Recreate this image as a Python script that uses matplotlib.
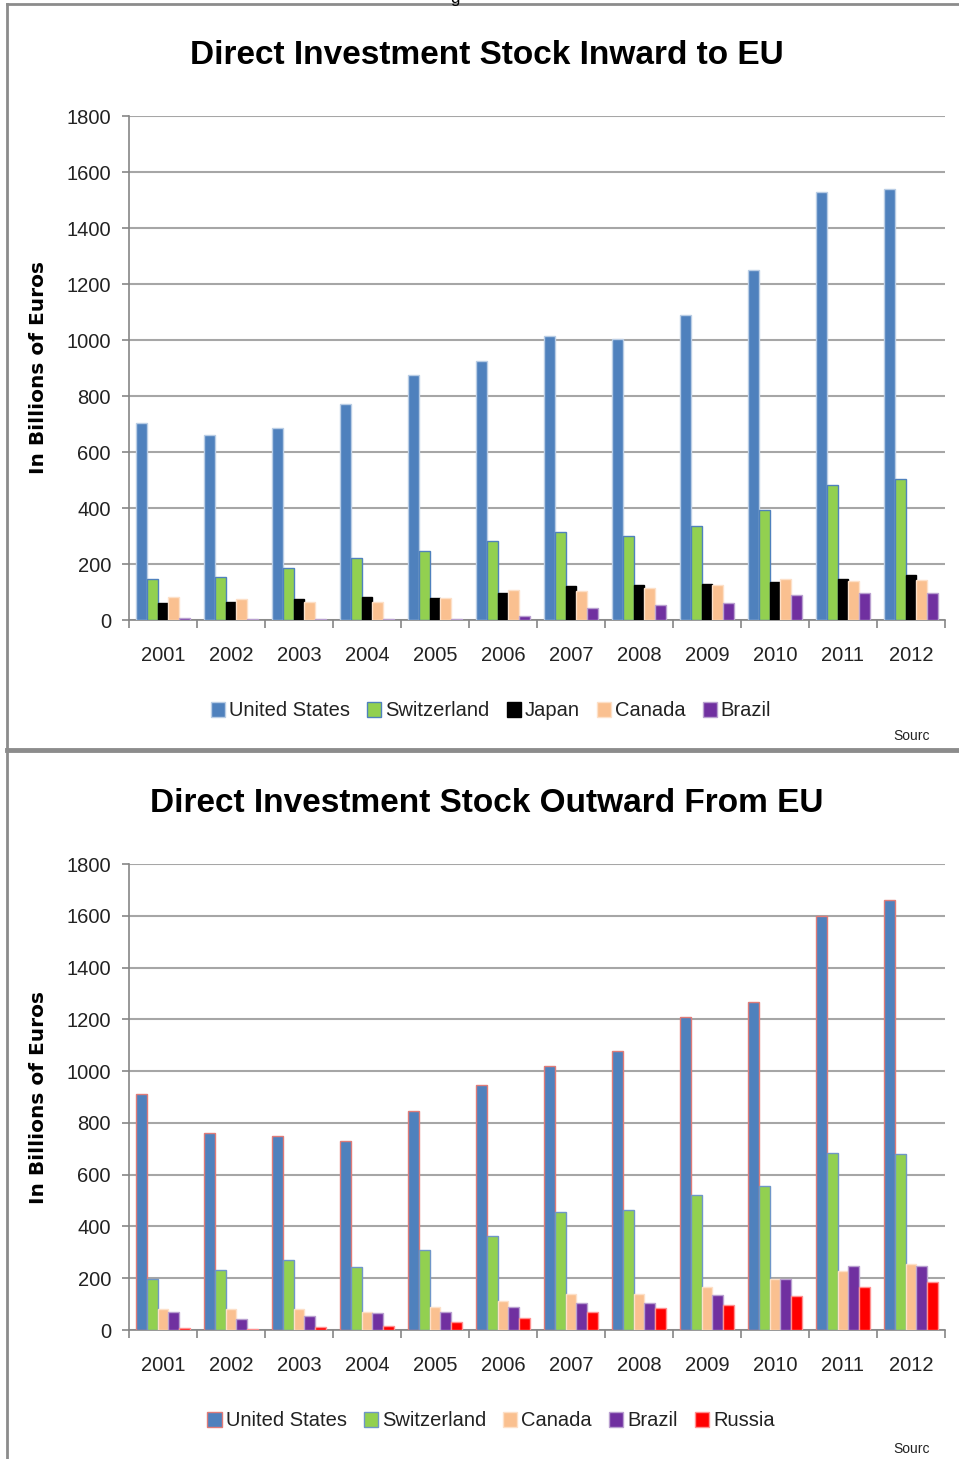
import numpy as np
import matplotlib
matplotlib.use("Agg")
import matplotlib.pyplot as plt
from matplotlib.lines import Line2D
from matplotlib.patches import Patch

plt.rcParams['font.family'] = ['Liberation Sans', 'DejaVu Sans']

years = ['2001', '2002', '2003', '2004', '2005', '2006',
         '2007', '2008', '2009', '2010', '2011', '2012']

# inward stock to EU (billions of euros)
in_us = [705, 660, 687, 770, 875, 926, 1014, 1005, 1091, 1249, 1529, 1538]
in_switzerland = [145, 154, 186, 221, 245, 281, 314, 301, 337, 392, 482, 503]
in_japan = [60, 65, 74, 83, 79, 98, 120, 124, 129, 135, 148, 161]
in_canada = [83, 74, 65, 65, 79, 106, 102, 115, 124, 148, 138, 142]
in_brazil = [6, 5, 5, 5, 5, 14, 42, 52, 61, 88, 98, 98]

# outward stock from EU (billions of euros)
out_us = [913, 760, 750, 731, 846, 948, 1018, 1079, 1208, 1266, 1600, 1661]
out_switzerland = [197, 230, 269, 243, 308, 363, 455, 465, 522, 556, 684, 679]
out_canada = [81, 81, 81, 71, 90, 111, 140, 140, 166, 196, 226, 256]
out_brazil = [71, 41, 56, 65, 71, 90, 106, 106, 136, 196, 246, 246]
out_russia = [7, 5, 10, 16, 30, 46, 71, 86, 95, 131, 166, 186]

W, H = 959, 1459
fig = plt.figure(figsize=(W / 100, H / 100), dpi=100)

grid_col = '#a6a6a6'
axis_col = '#868686'
ax_left, ax_right = 129, 945


def draw_panel(top_px, bottom_px, title, title_y, series, legend_y, source_y):
    ax = fig.add_axes([ax_left / W, 1 - bottom_px / H, (ax_right - ax_left) / W,
                       (bottom_px - top_px) / H])
    x = np.arange(len(years))
    bw = 0.156
    n = len(series)
    for i, (name, vals, fc, ec) in enumerate(series):
        ax.bar(x + (i - (n - 1) / 2) * bw, vals, bw, color=fc, edgecolor=ec,
               linewidth=1.0, zorder=3)
    ax.set_xlim(-0.5, len(years) - 0.5)
    ax.set_ylim(0, 1800)
    ax.set_yticks(range(0, 1801, 200))
    ax.yaxis.grid(True, color=grid_col, linewidth=1.5, zorder=0)
    ax.set_axisbelow(True)
    for s in ['top', 'right']:
        ax.spines[s].set_visible(False)
    for s in ['left', 'bottom']:
        ax.spines[s].set_color(axis_col)
        ax.spines[s].set_linewidth(1.2)
    ax.set_xticks(x)
    ax.set_xticklabels(years, fontsize=14.5, color='#222222')
    ax.set_xticks(np.arange(-0.5, len(years)), minor=True)
    ax.tick_params(axis='x', which='major', length=0, pad=19)
    ax.tick_params(axis='x', which='minor', length=6, color=axis_col, width=1.2)
    ax.tick_params(axis='y', length=5, color=axis_col, width=1.2,
                   labelsize=14.5, labelcolor='#222222', pad=8)
    ax.set_ylabel('In Billions of Euros', family='DejaVu Sans', fontweight='bold',
                  fontsize=14.5)
    ax.yaxis.set_label_coords((48 - ax_left) / (ax_right - ax_left), 0.5)

    fig.text(487 / W, 1 - title_y / H, title, ha='center', va='center',
             fontsize=24, fontweight='bold')

    handles = [Patch(facecolor=fc, edgecolor=ec, linewidth=1.0) for _, _, fc, ec in series]
    labels = [name for name, _, _, _ in series]
    fig.legend(handles, labels, loc='center', bbox_to_anchor=(491 / W, 1 - legend_y / H),
               ncol=n, frameon=False, fontsize=14.5, handlelength=0.7, handleheight=0.7,
               handletextpad=0.2, columnspacing=0.85, labelcolor='#222222')
    fig.text(912 / W, 1 - source_y / H, 'Sourc', ha='center', va='center',
             fontsize=10, color='#222222')
    return ax


draw_panel(116, 620, 'Direct Investment Stock Inward to EU', 56, [
    ('United States', in_us, '#4f81bd', '#b9cde5'),
    ('Switzerland', in_switzerland, '#92d050', '#4f81bd'),
    ('Japan', in_japan, '#000000', '#000000'),
    ('Canada', in_canada, '#fac090', '#fde0c8'),
    ('Brazil', in_brazil, '#7030a0', '#b9a0d0'),
], 711, 736)

draw_panel(864, 1330, 'Direct Investment Stock Outward From EU', 804, [
    ('United States', out_us, '#4f81bd', '#e07b78'),
    ('Switzerland', out_switzerland, '#92d050', '#6f96c8'),
    ('Canada', out_canada, '#fac090', '#fde0c8'),
    ('Brazil', out_brazil, '#7030a0', '#b9a0d0'),
    ('Russia', out_russia, '#ff0000', '#ff9090'),
], 1421, 1449)

# page frame lines
frame_col = '#8c8c8c'
fig.add_artist(Line2D([7 / W, 7 / W], [0, 1 - 4 / H], color=frame_col, linewidth=2))
fig.add_artist(Line2D([7 / W, 1], [1 - 4 / H, 1 - 4 / H], color=frame_col, linewidth=2))
fig.add_artist(Line2D([7 / W, 1], [1 - 750 / H, 1 - 750 / H], color=frame_col, linewidth=3.5))
# clipped letter at the top edge of the page, as in the source scan
fig.text(455 / W, 1 + 2 / H, 'g', ha='center', va='center', fontsize=12)

fig.savefig('out.png', dpi=100)
